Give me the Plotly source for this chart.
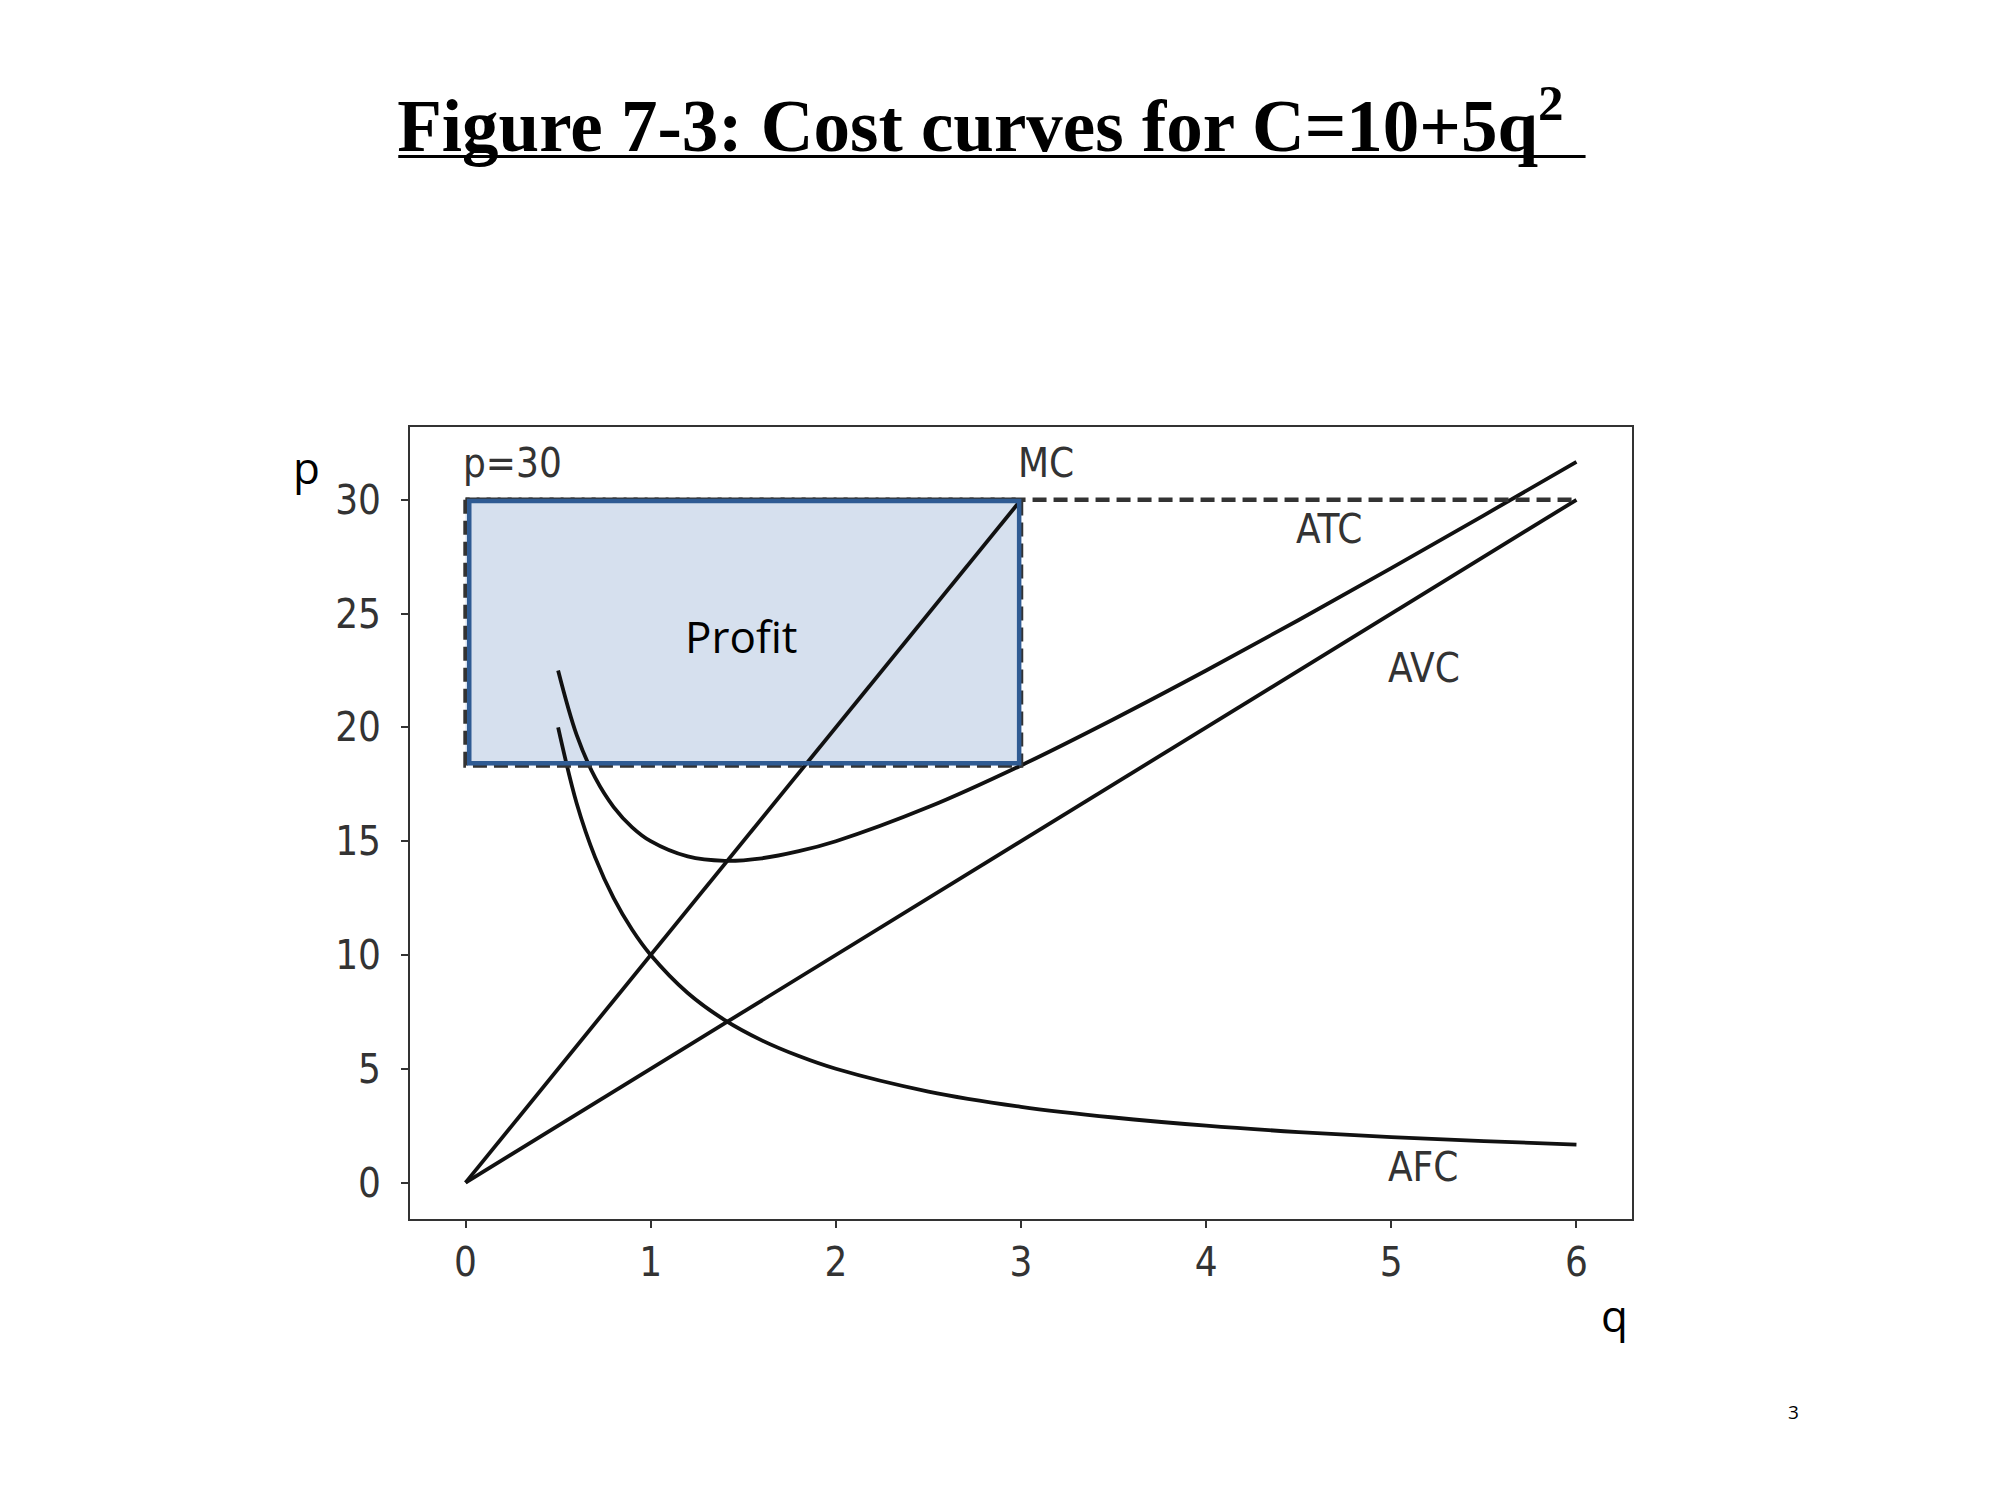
import plotly.graph_objects as go

# cost curves for C = 10 + 5q^2
q_avg = [0.5, 0.6, 0.7, 0.8, 0.9, 1.0, 1.2, 1.4, 1.6, 1.8, 2.0, 2.5, 3.0, 3.5, 4.0, 4.5, 5.0, 5.5, 6.0]
atc = [22.5, 19.67, 17.79, 16.5, 15.61, 15.0, 14.33, 14.14, 14.25, 14.56, 15.0, 16.5, 18.33,
       20.36, 22.5, 24.72, 27.0, 29.32, 31.67]
afc = [20.0, 16.67, 14.29, 12.5, 11.11, 10.0, 8.33, 7.14, 6.25, 5.56, 5.0, 4.0, 3.33,
       2.86, 2.5, 2.22, 2.0, 1.82, 1.67]
q_mc = [0, 3]
mc = [0, 30]
q_avc = [0, 6]
avc = [0, 30]
price = 30
q_star = 3
atc_star = 18.33

x_ticks = [0, 1, 2, 3, 4, 5, 6]
y_ticks = [0, 5, 10, 15, 20, 25, 30]

curve = dict(color="#111111", width=3.8)
dash = dict(color="#333333", width=4.5, dash="14px,7px")
label_font = dict(family="DejaVu Sans Condensed, DejaVu Sans", size=40, color="#333333")
slide_font = dict(family="Open Sans", size=44, color="black")

fig = go.Figure()
fig.add_trace(go.Scatter(x=q_avg, y=atc, mode="lines", line=dict(shape="spline", **curve)))
fig.add_trace(go.Scatter(x=q_avg, y=afc, mode="lines", line=dict(shape="spline", **curve)))
fig.add_trace(go.Scatter(x=q_mc, y=mc, mode="lines", line=curve))
fig.add_trace(go.Scatter(x=q_avc, y=avc, mode="lines", line=curve))
fig.add_trace(go.Scatter(x=[0, 6], y=[price, price], mode="lines", line=dash))
fig.add_trace(go.Scatter(x=[0, 0, q_star, q_star, 0], y=[price, atc_star, atc_star, price, price],
                         mode="lines", line=dash))

# profit box
fig.add_shape(type="rect", x0=0, x1=q_star, y0=atc_star, y1=price, layer="below",
              fillcolor="#d6e0ee", line_width=0)
fig.add_shape(type="rect", x0=0.02, x1=q_star - 0.01, y0=atc_star + 0.1, y1=price - 0.05,
              layer="above", fillcolor="rgba(0,0,0,0)", line=dict(color="#2f5b93", width=4.5))

for txt, x, y in [("p=30", 0, 31.6), ("MC", 3, 31.6), ("ATC", 4.5, 28.7),
                  ("AVC", 5, 22.6), ("AFC", 5, 0.7)]:
    fig.add_annotation(x=x, y=y, text=txt, showarrow=False, xanchor="left", yanchor="middle",
                       xshift=-5, font=label_font)

fig.add_annotation(x=1.49, y=24.0, text="Profit", showarrow=False, font=slide_font)

# slide texts placed relative to the plot area
for txt, x, y, size in [("p", -0.085, 0.950, 44), ("q", 0.986, -0.121, 44), ("3", 1.132, -0.2435, 19)]:
    fig.add_annotation(x=x, y=y, xref="paper", yref="paper", text=txt, showarrow=False,
                       xanchor="center", yanchor="middle",
                       font=dict(family="Open Sans", size=size, color="black"))
fig.add_shape(type="line", xref="paper", yref="paper", x0=-0.0096, x1=0.962,
              y0=1.3416, y1=1.3416, line=dict(color="black", width=3))

fig.update_layout(
    width=2000, height=1500,
    paper_bgcolor="white", plot_bgcolor="white",
    showlegend=False,
    margin=dict(l=402, r=376, t=419, b=289),
    title=dict(text="<b>Figure 7-3: Cost curves for C=10+5q<sup>2</sup></b>",
               x=0.4862, xanchor="center", y=0.905, yanchor="bottom",
               font=dict(family="Liberation Serif", size=73, color="black")),
)
fig.update_xaxes(range=[-0.3, 6.3], tickvals=x_ticks, ticks="outside", ticklen=7, tickwidth=2,
                 tickcolor="#333333", showline=True, linecolor="#333333", linewidth=2, mirror=True,
                 showgrid=False, zeroline=False, tickfont=label_font, ticklabelstandoff=0)
fig.update_yaxes(range=[-1.6, 33.2], tickvals=y_ticks, ticks="outside", ticklen=7, tickwidth=2,
                 tickcolor="#333333", showline=True, linecolor="#333333", linewidth=2, mirror=True,
                 showgrid=False, zeroline=False, tickfont=label_font, ticklabelstandoff=12)

fig.write_html("out.html")
